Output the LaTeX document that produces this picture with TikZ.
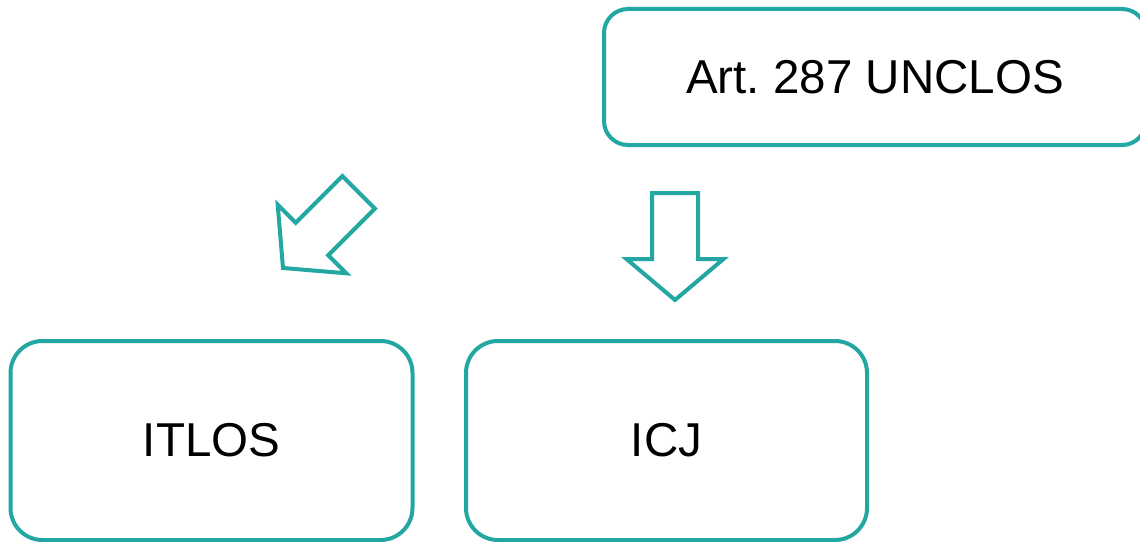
\documentclass[tikz,border=0pt]{standalone}
\usepackage{fontspec}
\setmainfont{Liberation Sans}
\definecolor{teal}{HTML}{22A7A2}

\begin{document}
\begin{tikzpicture}[
  rbox/.style={
    draw=teal, line width=0.1cm, fill=white, rounded corners=0.8cm,
    minimum width=10.05cm, minimum height=4.975cm,
    font=\fontsize{33.8}{40}\selectfont, text=black, align=center
  },
  blockarr/.style={draw=teal, line width=0.1cm, line join=miter, fill=white},
]

% Page frame
\clip (0,0) rectangle (28.5,13.525);

% Source box (top right)
\node[rbox, rounded corners=0.6cm, minimum width=13.55cm, minimum height=3.4cm] (art) at (21.875,11.6)
  {Art.\ 287 UNCLOS};

% Forum boxes
\node[rbox] (itlos) at (5.2875,2.5125) {ITLOS};
\node[rbox, minimum width=10.025cm] (icj) at (16.6625,2.5125) {ICJ};

% Block arrows
\def\blockarrow{(0,0) -- (-1.2125,1.025) -- (-0.575,1.025) -- (-0.575,2.675)
  -- (0.575,2.675) -- (0.575,1.025) -- (1.2125,1.025) -- cycle}

\begin{scope}[shift={(7.075,6.825)}, rotate=-45]
  \draw[blockarr] \blockarrow;
\end{scope}
\begin{scope}[shift={(16.875,6.025)}]
  \draw[blockarr] \blockarrow;
\end{scope}

\end{tikzpicture}
\end{document}
